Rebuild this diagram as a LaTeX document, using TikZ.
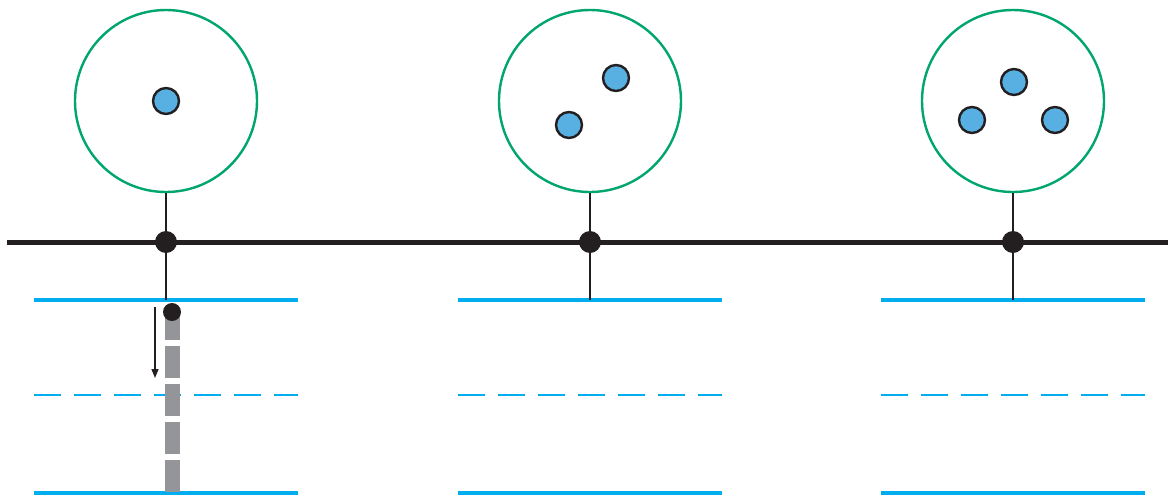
\documentclass[tikz,border=0pt]{standalone}
\usetikzlibrary{arrows.meta}
\definecolor{cgreen}{HTML}{00A56F}
\definecolor{cball}{HTML}{58B0E2}
\definecolor{cblue}{HTML}{00AEEF}
\definecolor{cgray}{HTML}{939598}
\definecolor{cblack}{HTML}{231F20}
\tikzset{
  big/.style={circle,draw=cgreen,line width=2.4pt,minimum size=182pt,inner sep=0pt},
  ball/.style={circle,draw=cblack,fill=cball,line width=2.4pt,minimum size=26pt,inner sep=0pt},
  junction/.style={circle,fill=cblack,minimum size=22pt,inner sep=0pt},
  stem/.style={cblack,line width=2pt},
  axis/.style={cblack,line width=5pt},
  bluesolid/.style={cblue,line width=4pt},
  bluedash/.style={cblue,line width=1.3pt,dash pattern=on 27pt off 13pt},
  track/.style={cgray,line width=15pt,dash pattern=on 32pt off 6pt},
  drop/.style={circle,fill=cblack,minimum size=18pt,inner sep=0pt}
}
\begin{document}
\begin{tikzpicture}[x=1pt,y=-1pt]
\useasboundingbox (0,0) rectangle (1168,501);
% axis
\coordinate (axL) at (7,242);
\coordinate (axR) at (1168,242);
\draw[axis] (axL) -- (axR);
% columns
\foreach \n/\x/\lx/\rx in {A/166/34/298, B/590/458/722, C/1013/881/1145}{
  \node[big] (big\n) at (\x,101) {};
  \coordinate (top\n) at (\x,300);
  \coordinate (l1\n) at (\lx,300);
  \coordinate (r1\n) at (\rx,300);
  \coordinate (l2\n) at (\lx,395);
  \coordinate (r2\n) at (\rx,395);
  \coordinate (l3\n) at (\lx,493);
  \coordinate (r3\n) at (\rx,493);
  \draw[bluesolid] (l1\n) -- (r1\n);
  \draw[bluedash] (l2\n) -- (r2\n);
  \draw[bluesolid] (l3\n) -- (r3\n);
  \node[junction] (j\n) at (\x,242) {};
  \draw[stem] (big\n.south) -- (top\n);
}
% balls
\node[ball] (a1) at (166,101) {};
\node[ball] (b1) at (616,78) {};
\node[ball] (b2) at (569,125) {};
\node[ball] (c1) at (1014,82) {};
\node[ball] (c2) at (972,120) {};
\node[ball] (c3) at (1055,120) {};
% left column drop
\coordinate (trackTop) at (172,308);
\coordinate (trackBot) at (172,493);
\draw[track] (trackTop) -- (trackBot);
\node[drop] (d) at (172,312) {};
\coordinate (arS) at (155,307);
\coordinate (arE) at (155,378);
\draw[cblack,line width=1.3pt,-{Triangle[length=9pt,width=7pt]}] (arS) -- (arE);
\end{tikzpicture}
\end{document}
